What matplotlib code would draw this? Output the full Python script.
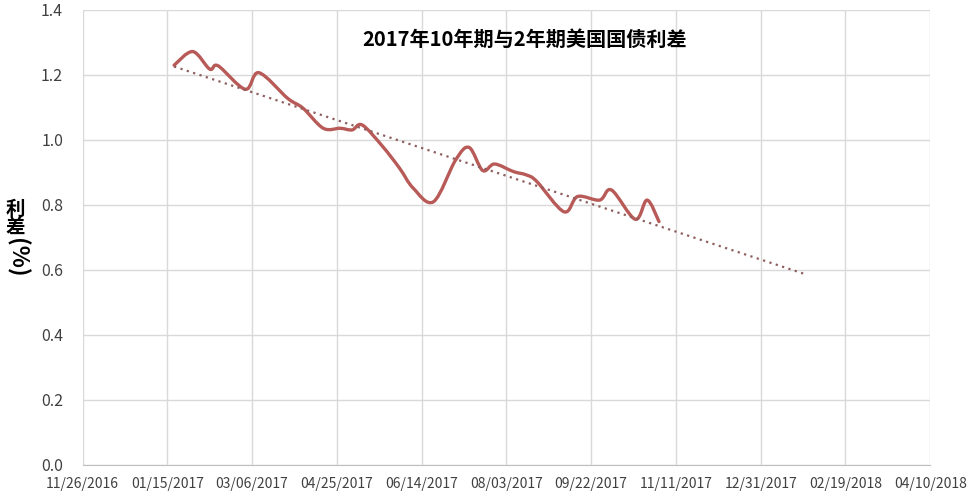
import numpy as np
import matplotlib
matplotlib.use("Agg")
import matplotlib.pyplot as plt
import matplotlib.dates as mdates
from matplotlib.path import Path
from matplotlib.patches import PathPatch

plt.rcParams['font.family'] = ['Noto Sans CJK SC', 'DejaVu Sans']

# ---- datos ----
fechas = np.array([
    '2017-01-19', '2017-01-30', '2017-02-09', '2017-02-14', '2017-03-02',
    '2017-03-10', '2017-03-27', '2017-04-05', '2017-04-17', '2017-04-27',
    '2017-05-04', '2017-05-10', '2017-05-22', '2017-06-01', '2017-06-09',
    '2017-06-21', '2017-07-04', '2017-07-12', '2017-07-20', '2017-07-27',
    '2017-08-07', '2017-08-15', '2017-08-21', '2017-09-06', '2017-09-14',
    '2017-09-27', '2017-10-04', '2017-10-18', '2017-10-25', '2017-11-01',
], dtype='datetime64[D]')
spread = np.array([
    1.230, 1.272, 1.218, 1.228, 1.156,
    1.207, 1.128, 1.098, 1.036, 1.036,
    1.031, 1.046, 0.980, 0.913, 0.852,
    0.810, 0.938, 0.977, 0.906, 0.926,
    0.903, 0.892, 0.872, 0.779, 0.826,
    0.815, 0.846, 0.756, 0.815, 0.749,
])
fin_tendencia = np.datetime64('2018-01-27')

eje_inicio = np.datetime64('2016-11-26')
eje_fin = np.datetime64('2018-04-10')
ticks_x = np.arange(eje_inicio, eje_fin + 1, 50)
ticks_y = [0.0, 0.2, 0.4, 0.6, 0.8, 1.0, 1.2, 1.4]

titulo = "2017年10年期与2年期美国国债利差"
etiqueta_y_cjk = ["利", "差"]
etiqueta_y_unidad = "(%)"

# ---- figura ----
fig = plt.figure(figsize=(9.69, 4.98), dpi=100)
ax = fig.add_axes([0.0852, 0.0663, 0.8748, 0.9137])

x = mdates.date2num(fechas.astype('datetime64[s]').astype(object))
y = spread

# linea suavizada (tipo Excel: Catmull-Rom -> Bezier)
verts = [(x[0], y[0])]
codes = [Path.MOVETO]
n = len(x)
for i in range(n - 1):
    p0 = np.array([x[max(i - 1, 0)], y[max(i - 1, 0)]])
    p1 = np.array([x[i], y[i]])
    p2 = np.array([x[i + 1], y[i + 1]])
    p3 = np.array([x[min(i + 2, n - 1)], y[min(i + 2, n - 1)]])
    c1 = p1 + (p2 - p0) / 6.0
    c2 = p2 - (p3 - p1) / 6.0
    verts += [tuple(c1), tuple(c2), tuple(p2)]
    codes += [Path.CURVE4] * 3
ax.add_patch(PathPatch(Path(verts, codes), facecolor='none',
                       edgecolor='#B85A57', lw=2.4, zorder=3,
                       capstyle='round', joinstyle='round'))

# tendencia lineal con pronóstico
coef = np.polyfit(x, y, 1)
xt = np.array([x[0], mdates.date2num(fin_tendencia.astype(object))])
ax.plot(xt, np.polyval(coef, xt), linestyle=(0, (1, 2)), color='#8E5E5E',
        lw=1.6, zorder=4)

ax.set_xlim(mdates.date2num(eje_inicio.astype(object)),
            mdates.date2num(eje_fin.astype(object)))
ax.set_ylim(0, 1.4)
ax.set_xticks(mdates.date2num(ticks_x.astype(object)))
ax.set_xticklabels([d.astype(object).strftime('%m/%d/%Y') for d in ticks_x])
ax.set_yticks(ticks_y)
ax.set_yticklabels([f"{v:.1f}" for v in ticks_y])

ax.grid(True, color='#D9D9D9', lw=1.0)
ax.set_axisbelow(True)
for s in ['top', 'right', 'left']:
    ax.spines[s].set_visible(False)
ax.spines['bottom'].set_color('#BFBFBF')
ax.tick_params(axis='both', length=0, colors='#404040')
ax.tick_params(axis='x', labelsize=10, pad=9)
ax.tick_params(axis='y', labelsize=11.5, pad=14)

ax.text(0.522, 0.935, titulo, transform=ax.transAxes, ha='center',
        va='center', fontsize=14.5, fontweight='bold', color='black')

# etiqueta vertical: caracteres chinos de pie, "(%)" girado
W, H = 969.0, 498.0
for k, ch in enumerate(etiqueta_y_cjk):
    fig.text(15 / W, 1 - (209 + 18.5 * k) / H, ch, ha='center', va='center',
             fontsize=14, fontweight='bold')
fig.text(16 / W, 1 - 258 / H, etiqueta_y_unidad, ha='center', va='center',
         rotation=-90, fontsize=16.5, fontweight='bold')

fig.savefig('out.png', dpi=100, facecolor='white')
